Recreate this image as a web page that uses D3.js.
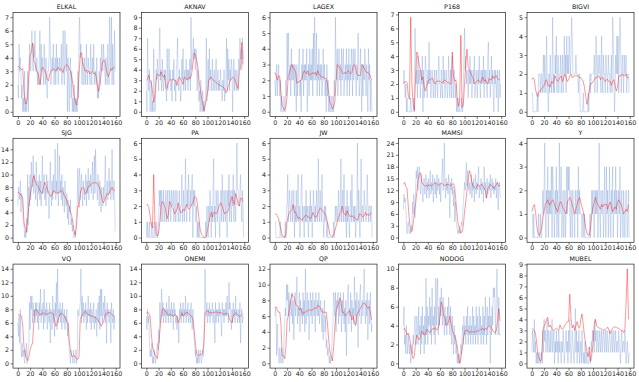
<!DOCTYPE html>
<html><head><meta charset="utf-8">
<script src="https://cdn.jsdelivr.net/npm/d3@7"></script>
<style>body{margin:0;background:#fff}svg text{font-family:"DejaVu Sans",sans-serif}</style>
</head><body><svg id="c" width="639" height="382"></svg>
<script>
const titles = ["ELKAL","AKNAV","LAGEX","P168","BIGVI","SJG","PA","JW","MAMSI","Y","VQ","ONEMI","QP","NODOG","MUBEL"];
const yTickStep = [1,1,1,1,1,2,1,1,3,1,2,2,2,2,1];
const xTickLabels = [0,20,40,60,80,100,120,140,160];

// blue (observed) series, one value per step, x = 0..159
const ELKAL_obs=[2,1,5,3,4,3,1,2,0,1,0,3,0,1,0,1,3,0,2,5,4,3,5,6,4,3,5,4,6,3,3,4,2,3,2,4,6,2,5,3,4,3,2,5,3,2,4,2,1,3,3,4,7,5,2,3,4,3,5,2,3,4,2,5,3,4,2,3,4,3,3,5,2,4,6,3,2,6,4,3,5,0,4,2,0,3,4,1,3,0,1,0,2,0,1,0,1,0,3,1,6,7,4,5,3,2,4,3,2,4,3,2,5,3,2,4,3,3,2,5,3,2,4,3,5,2,3,3,2,4,1,2,1,3,2,4,3,5,4,3,5,4,3,2,4,3,2,5,3,2,7,4,3,7,2,5,3,2,6,3];
const AKNAV_obs=[2,0,7,3,2,4,0,1,3,0,1,0,6,2,0,1,4,3,5,4,2,5,8,3,4,2,5,3,2,4,3,4,2,1,6,2,3,6,3,4,2,3,1,4,3,5,2,3,1,4,5,7,3,2,4,3,1,2,5,3,6,2,3,4,2,5,3,4,2,4,3,5,2,9,4,5,6,7,5,6,4,6,5,2,4,3,1,2,0,3,1,0,2,0,1,0,1,2,7,1,3,5,2,6,3,4,2,3,5,2,3,4,2,3,5,2,3,4,2,3,2,4,3,2,1,3,2,4,1,2,3,7,2,6,3,5,2,4,3,5,4,0,3,5,2,4,3,2,4,3,2,5,4,7,5,6,4,7,6,5];
const LAGEX_obs=[2,1,2,3,1,2,3,2,1,2,0,1,0,0,0,1,0,0,2,1,5,2,5,3,2,3,1,4,2,3,2,3,1,3,2,0,3,1,2,3,4,1,2,0,3,2,4,1,3,2,3,2,4,0,2,3,1,4,2,3,2,4,1,5,2,6,3,2,5,1,3,2,4,1,3,2,3,1,2,4,2,3,1,2,0,3,1,2,0,1,0,0,1,0,0,1,0,2,1,6,3,2,4,1,3,4,2,3,1,4,2,3,4,1,2,3,2,4,1,3,2,4,1,3,2,4,3,1,4,2,3,4,2,1,3,2,5,3,1,2,4,2,0,3,1,3,2,4,3,1,3,2,0,4,2,3,0,2,1,0];
const P168_obs=[2,3,2,1,2,0,1,0,0,0,0,0,1,0,0,0,0,1,0,6,4,2,3,1,4,2,3,2,1,3,2,4,0,3,1,2,4,3,2,1,3,2,5,2,3,1,2,3,2,1,2,3,1,2,3,2,1,3,4,2,2,1,3,2,1,4,2,3,1,2,3,2,1,2,4,2,1,3,2,1,4,2,1,3,2,1,2,0,1,0,0,1,0,0,0,1,0,0,2,4,6,3,4,2,3,2,1,3,2,4,2,3,1,2,3,2,4,1,2,3,2,1,3,2,4,2,1,3,2,3,2,4,1,3,2,3,2,1,4,5,2,3,1,2,4,2,3,1,0,3,2,3,1,2,3,0,2,3,1,2];
const BIGVI_obs=[1,1,0,0,0,0,0,0,0,1,0,2,2,2,1,2,2,1,2,3,1,3,2,1,4,2,1,0,2,1,3,2,1,2,5,1,2,1,3,2,4,1,2,3,1,2,2,3,1,2,3,1,2,4,2,3,1,4,2,3,2,4,3,2,3,5,4,2,2,2,2,2,3,2,2,2,1,2,2,0,0,0,0,0,1,0,0,0,0,0,0,0,1,0,1,2,1,2,2,2,2,2,3,1,2,4,2,1,3,2,2,3,2,1,4,2,1,3,2,2,1,3,2,2,1,3,2,2,1,2,3,1,5,4,2,0,1,3,2,4,2,4,1,3,5,4,1,2,3,2,1,3,2,2,3,1,2,2,2,1];
const SJG_obs=[5,8,7,6,9,4,7,6,5,2,2,0,1,0,3,1,10,2,8,5,10,6,12,9,8,13,7,10,9,6,12,8,5,9,7,10,6,9,5,8,13,7,9,10,6,8,5,10,7,9,6,3,8,12,7,5,9,6,10,7,8,14,6,9,7,15,5,8,13,7,9,6,10,5,8,7,4,9,6,5,7,3,6,2,5,4,6,2,3,1,2,0,0,1,0,2,4,6,11,5,9,11,6,8,10,7,5,9,7,6,8,10,5,9,7,11,6,9,8,10,7,9,12,6,8,13,7,14,9,8,6,10,8,5,9,7,4,8,6,5,8,6,9,13,5,7,9,6,8,11,7,9,6,8,14,7,6,9,8,1];
const PA_obs=[1,0,1,0,0,1,0,0,0,1,0,0,0,1,0,0,0,1,0,0,1,3,2,3,1,3,2,1,3,2,1,2,3,1,2,3,1,2,3,2,1,3,2,2,3,1,2,3,1,2,3,2,1,2,3,1,2,2,4,1,2,3,1,2,5,2,1,3,2,4,2,1,3,2,3,4,0,3,2,3,2,1,2,0,1,0,1,0,0,0,0,0,0,0,0,0,0,1,0,2,1,0,2,1,3,2,0,2,1,3,5,1,2,0,3,2,1,3,2,1,0,2,3,1,4,2,1,3,2,1,3,2,0,3,2,4,1,3,2,1,3,2,4,1,3,2,1,3,6,3,3,2,2,3,4,2,1,3,2,0];
const JW_obs=[1,1,0,0,0,0,0,0,0,1,0,0,0,0,0,0,0,1,0,2,2,4,1,2,3,2,1,2,3,1,2,3,0,2,1,3,1,2,4,1,2,0,1,3,4,1,2,1,0,2,1,3,1,2,1,0,2,1,3,1,2,0,1,3,2,1,2,1,3,2,1,5,2,1,3,2,1,4,2,1,0,2,1,2,1,0,1,0,0,0,0,0,0,0,0,0,1,0,1,2,1,2,2,1,3,2,1,2,5,1,2,3,1,4,2,1,2,0,3,1,2,1,0,2,3,1,4,2,1,2,1,2,0,1,2,6,1,3,2,0,2,5,1,2,2,1,3,2,2,1,2,4,2,1,2,2,1,2,2,0];
const MAMSI_obs=[7,11,9,10,8,4,1,3,4,2,1,2,1,3,2,9,6,11,8,5,12,17,15,18,12,16,18,14,11,13,16,12,9,14,15,11,13,16,10,14,12,15,10,13,17,11,14,12,16,9,13,15,11,14,10,16,12,13,15,11,14,9,13,16,20,12,14,24,13,10,15,12,14,11,16,13,5,14,12,15,11,13,8,12,4,9,5,3,2,1,2,1,3,1,2,4,3,6,9,11,14,12,16,19,13,17,15,12,14,11,13,16,10,14,12,15,9,13,16,11,14,12,15,18,10,13,12,15,11,14,13,9,18,12,14,10,13,15,11,12,14,12,16,10,13,15,12,14,11,13,12,15,10,14,12,7,13,14,11,10];
const Y_obs=[1,1,0,1,0,0,0,0,0,0,0,1,0,0,1,0,0,1,2,1,2,4,1,0,2,1,3,0,2,1,2,1,3,0,3,2,1,0,2,1,3,0,2,1,0,4,1,2,3,0,1,2,0,1,2,0,1,3,1,3,2,3,1,0,2,1,0,2,1,1,0,2,1,1,2,0,3,1,2,1,1,1,0,1,1,0,1,0,0,0,0,0,0,0,0,1,0,1,2,1,2,1,0,2,1,2,1,2,0,1,4,1,0,2,1,1,2,0,1,3,1,0,3,1,2,0,1,3,1,0,2,1,3,0,1,2,1,3,1,2,0,1,2,1,3,0,1,2,1,0,2,1,0,1,2,1,0,1,2,0];
const VQ_obs=[6,4,7,3,8,2,1,3,1,2,1,0,2,1,3,0,1,2,3,9,5,10,8,10,6,9,7,8,6,9,7,9,6,8,5,9,7,11,6,8,7,9,5,11,6,8,7,9,5,8,7,6,9,3,8,7,5,10,6,8,4,9,7,12,5,14,6,8,7,9,6,8,5,9,7,6,8,5,7,6,8,4,6,3,2,1,0,2,1,1,0,2,1,0,1,2,0,1,8,7,7,8,9,14,6,10,7,9,6,8,7,9,5,8,6,10,7,8,6,9,5,8,7,6,9,5,7,6,8,4,7,9,6,10,5,11,7,11,6,8,9,7,10,6,8,3,9,7,8,6,7,8,3,9,7,6,8,5,7,6];
const ONEMI_obs=[7,5,8,6,7,3,1,2,1,3,0,1,0,2,1,0,1,2,3,2,5,3,9,6,8,11,7,9,6,8,7,8,6,9,7,8,6,10,7,8,6,9,7,8,5,9,7,8,6,7,5,7,6,3,8,7,9,6,8,7,9,6,8,7,10,6,8,7,9,6,7,8,6,9,7,5,8,6,4,3,1,2,0,1,0,2,0,1,2,1,0,1,2,1,3,7,14,8,7,9,6,8,7,9,6,8,7,8,9,6,8,7,3,9,6,8,7,8,6,9,7,8,6,4,9,7,8,6,8,7,9,7,10,8,6,12,8,9,7,5,8,6,9,7,8,6,10,7,8,6,7,8,6,9,3,7,8,6,7,7];
const QP_obs=[6,7,6,1,5,2,1,0,2,1,0,2,1,0,1,3,5,7,6,10,8,10,6,9,4,8,7,6,9,5,8,3,7,9,6,8,11,5,7,6,9,4,8,6,7,5,9,6,8,4,12,5,7,9,6,8,3,7,9,6,8,5,9,7,6,8,4,9,7,6,8,6,9,5,7,8,6,4,7,3,6,8,4,6,2,3,1,2,1,0,1,0,1,2,4,5,9,8,6,9,4,8,7,9,5,8,6,9,7,4,8,6,9,5,7,4,8,1,6,9,10,5,7,6,9,4,8,6,7,5,11,6,8,5,9,7,2,8,6,9,10,5,7,8,6,9,12,7,5,8,6,9,3,7,8,5,9,6,4,5];
const NODOG_obs=[4,6,2,3,1,4,2,1,3,2,1,2,0,1,2,1,3,2,4,5,3,2,5,4,2,6,3,4,1,5,2,6,3,4,1,5,2,9,3,6,2,5,4,7,3,6,2,8,4,5,3,6,2,9,4,7,9,3,6,4,7,5,8,6,4,7,5,3,6,4,5,3,6,4,7,5,3,6,4,2,5,3,1,4,2,3,1,2,0,1,0,1,0,0,2,1,3,4,2,5,3,4,2,5,3,6,2,4,3,5,2,4,3,6,2,5,3,4,2,6,3,5,2,4,6,3,5,2,4,3,6,2,5,3,7,4,2,6,3,5,4,7,0,5,3,6,4,8,7,8,5,3,7,10,6,3,7,3,3,3];
const MUBEL_obs=[1,3,2,1,4,1,2,0,1,0,1,0,0,1,0,0,1,0,3,1,4,2,3,1,2,4,1,3,2,1,3,1,2,4,1,2,3,0,2,1,3,1,2,0,3,1,2,1,0,2,1,3,2,0,1,2,3,1,2,0,3,1,4,2,0,1,3,2,1,0,2,5,1,3,0,2,1,3,0,1,2,0,3,1,0,1,0,2,0,0,1,0,0,0,1,0,0,2,1,3,2,3,1,4,2,3,1,2,3,1,2,3,1,2,3,1,2,3,2,1,3,2,1,3,2,1,2,3,2,1,2,3,1,2,3,1,2,3,1,2,2,1,3,2,1,0,2,3,1,2,2,1,3,2,0,1,2,1,0,1];

// red (smoothed) series, one value every 2 steps, x = 0,2,..,158
const ELKAL_fit=[3.4,3.3,3.2,3.1,3.2,1.5,0.6,0.6,1.2,2.8,4.2,4.4,5.1,3.8,3.6,3.2,2.9,2.7,2.0,2.6,3.3,3.2,3.1,2.8,2.4,2.3,2.8,3.0,3.1,3.2,3.1,3.0,3.2,3.3,3.1,3.2,3.1,2.9,3.3,3.4,3.5,3.4,3.2,3.0,2.6,2.0,1.2,0.7,0.5,1.0,2.8,4.2,4.4,3.6,3.3,3.0,3.1,2.9,3.0,2.8,2.9,3.0,2.8,2.9,2.6,2.0,1.5,1.9,2.8,3.6,3.8,3.8,3.3,2.8,2.6,2.9,3.2,3.1,3.3,3.3];
const AKNAV_fit=[3.0,3.1,3.5,2.9,2.8,2.0,0.9,1.5,3.0,3.6,3.5,3.4,3.8,3.5,3.3,3.5,2.2,2.3,2.8,3.0,3.1,3.0,3.1,3.0,3.0,2.5,3.1,3.3,3.1,2.9,2.6,3.3,3.2,3.1,3.1,3.3,3.2,3.6,4.5,5.6,5.4,5.0,4.3,3.0,2.2,1.4,0.8,0.1,0.6,1.2,1.8,3.0,3.2,3.3,3.1,3.0,2.9,2.8,2.7,2.6,2.5,2.5,2.4,2.3,2.2,1.8,2.0,2.5,2.8,3.1,3.2,3.3,3.2,2.8,2.5,2.2,3.8,4.2,6.6,4.5];
const LAGEX_fit=[2.5,2.3,2.0,2.3,2.2,1.2,0.4,0.2,0.1,0.3,1.0,2.3,2.5,2.8,3.0,2.8,2.7,2.5,1.8,1.9,1.9,2.0,2.1,2.4,2.6,2.5,2.4,2.6,2.3,2.4,2.4,2.5,2.4,2.5,2.3,2.6,2.4,2.3,2.2,2.2,2.2,2.1,2.1,1.8,1.2,0.6,0.4,0.2,0.3,0.6,2.0,3.0,2.9,2.8,2.7,2.5,2.4,2.5,2.4,2.5,2.6,2.5,2.4,2.5,2.9,3.0,2.8,2.4,2.3,2.3,2.3,3.0,2.9,2.8,2.6,2.5,2.5,2.4,2.3,2.0];
const P168_fit=[2.1,2.1,2.2,2.1,1.2,0.9,6.8,2.0,0.5,0.1,2.5,4.3,4.0,3.3,3.0,2.3,2.5,1.8,1.5,1.8,2.2,2.3,2.3,2.4,2.4,2.1,2.0,2.2,2.2,2.2,2.2,2.1,2.1,2.2,2.3,2.2,2.1,2.1,2.0,2.0,4.3,2.5,2.2,2.3,1.0,0.4,0.8,5.5,0.3,0.5,2.0,3.5,4.5,3.2,3.0,2.8,2.6,2.4,2.0,2.1,2.2,2.3,2.2,2.1,2.3,2.5,2.2,2.3,2.1,2.0,2.4,2.3,2.3,2.6,2.4,2.5,2.6,2.4,2.3,2.3];
const BIGVI_fit=[1.7,1.8,1.7,1.2,0.9,0.8,1.1,1.1,1.2,1.3,1.4,1.6,1.7,1.4,1.4,1.3,1.6,1.5,1.7,1.9,1.7,1.6,1.7,1.8,1.9,1.6,1.8,2.0,1.8,1.6,1.7,1.9,2.0,1.8,1.9,1.9,1.9,1.9,1.9,1.8,1.8,1.7,1.6,1.3,0.8,0.4,0.7,1.2,1.5,1.5,1.6,1.7,1.8,1.8,1.9,1.9,1.7,1.8,1.8,1.7,1.6,1.7,1.7,1.6,1.6,1.4,1.6,1.7,1.4,1.1,1.3,1.9,1.9,1.9,2.0,1.9,1.9,2.0,1.8,1.8];
const SJG_fit=[7.2,7.1,6.8,6.7,6.2,2.5,1.5,0.8,3.0,5.0,6.5,7.8,9.0,9.8,9.0,8.5,8.2,8.0,7.5,7.2,7.0,8.0,8.8,8.2,7.8,7.2,6.8,6.5,6.8,7.5,7.3,7.2,7.0,7.1,7.2,7.5,7.4,7.2,6.6,6.4,5.8,5.3,5.0,4.0,3.5,2.3,1.0,0.4,2.0,5.0,4.8,7.0,7.8,8.0,7.8,6.9,7.2,7.8,8.1,8.3,8.5,8.6,8.7,8.7,8.7,8.6,8.2,7.8,6.8,6.0,5.5,6.0,6.5,7.0,6.8,7.3,7.6,8.0,7.5,7.5];
const PA_fit=[2.1,2.1,1.9,1.4,0.8,0.6,4.0,1.0,0.2,0.1,0.3,1.0,2.0,2.3,2.2,2.0,1.6,1.2,1.5,2.3,2.1,1.9,1.8,1.5,1.6,1.8,2.2,1.8,1.6,1.6,1.8,1.7,1.9,2.1,1.9,1.8,1.9,2.1,2.2,2.5,2.6,2.5,1.9,1.2,0.5,0.2,0.1,0.0,0.0,0.1,0.5,0.9,1.3,1.6,1.3,1.6,1.6,1.5,1.6,1.9,2.1,2.2,2.0,1.7,1.5,1.6,1.6,1.7,2.1,2.3,2.6,2.3,2.1,2.8,2.5,2.1,2.0,2.5,2.5,2.3];
const JW_fit=[1.5,1.5,1.4,1.2,0.8,0.5,0.1,0.1,0.0,0.2,1.0,1.4,1.6,1.7,1.8,2.1,1.6,1.6,1.4,1.2,1.3,1.2,1.1,1.2,1.3,1.4,1.4,1.3,1.3,1.2,1.3,1.6,1.4,1.3,1.3,1.5,1.7,1.9,1.8,1.7,1.6,1.5,1.3,1.0,0.6,0.2,0.1,0.05,0.2,0.4,0.7,1.0,1.3,1.5,1.6,2.0,1.6,1.5,1.4,1.7,1.5,1.4,1.3,1.4,1.3,1.3,1.2,1.1,1.2,1.5,1.5,1.4,1.3,1.4,1.6,1.4,1.5,1.4,1.5,1.6];
const MAMSI_fit=[13.5,14.0,13.0,12.5,8.0,4.0,2.0,1.5,3.5,6.2,8.5,11.5,14.5,16.2,16.5,14.0,13.6,13.3,13.0,13.3,13.0,13.4,13.3,13.1,13.4,13.7,14.0,13.6,13.5,13.2,13.5,13.8,13.6,13.4,13.1,13.5,13.4,13.5,13.2,13.3,13.5,13.7,12.5,9.0,5.5,3.0,2.0,1.2,1.4,3.0,6.5,9.0,12.0,15.0,17.0,16.0,14.0,13.0,12.8,12.5,12.8,13.5,13.0,13.3,13.5,13.0,12.5,12.0,10.0,12.5,13.0,13.5,13.2,13.0,12.5,13.0,13.5,14.0,13.0,13.4];
const Y_fit=[1.1,1.3,1.4,1.1,0.5,0.2,0.1,0.2,0.4,0.8,1.1,1.4,1.5,1.6,1.4,1.4,1.5,1.6,1.5,1.3,1.2,1.1,1.3,1.5,1.5,1.3,1.2,1.1,1.0,1.5,1.6,1.7,1.6,1.4,1.2,1.0,1.2,1.4,1.6,1.7,1.5,1.3,1.1,0.8,0.4,0.2,0.1,0.1,0.5,1.0,1.3,1.5,1.7,1.5,1.4,1.3,1.2,1.4,1.3,1.4,1.4,1.4,1.2,1.4,1.5,1.3,1.1,1.2,1.3,1.2,1.5,1.6,1.5,1.4,1.2,1.0,1.1,1.2,1.1,1.4];
const VQ_fit=[7.2,7.2,7.1,7.0,5.5,2.5,1.2,0.8,0.4,1.0,2.0,2.6,3.0,6.0,7.9,8.0,7.7,7.4,7.2,7.3,7.4,7.5,7.3,7.3,7.3,7.4,7.5,7.5,7.4,7.3,6.5,5.5,5.8,6.5,7.0,7.4,7.4,7.2,7.0,6.6,6.3,6.0,3.5,1.8,1.1,1.0,1.2,0.9,0.7,0.6,1.0,6.5,7.0,7.3,7.5,7.7,7.5,7.3,7.2,7.1,7.0,7.0,6.9,6.8,6.7,6.5,6.2,6.0,5.5,5.8,6.2,7.0,7.3,7.5,7.5,7.5,7.4,7.2,7.1,7.0];
const ONEMI_fit=[7.5,7.5,7.4,7.0,4.5,2.5,1.8,1.3,1.0,0.7,2.5,4.7,6.5,8.0,8.2,7.8,7.6,7.3,7.2,7.2,7.2,7.1,7.0,7.1,7.2,7.0,6.0,6.5,7.0,7.5,7.0,7.2,7.5,7.5,7.5,7.3,7.1,7.0,6.5,5.0,3.0,1.5,1.2,1.2,1.3,1.3,1.5,3.0,7.5,7.7,7.8,7.6,7.5,7.5,7.5,7.5,7.6,7.6,7.6,7.5,7.5,7.5,7.4,7.3,7.3,7.4,7.4,7.3,6.5,6.2,6.0,7.0,7.3,7.5,7.3,7.1,7.0,7.0,7.2,7.4];
const QP_fit=[7.0,7.2,6.8,6.5,6.5,5.0,1.0,1.0,0.6,2.0,5.5,6.0,7.0,8.2,8.8,8.5,8.3,7.5,7.3,7.2,6.8,7.0,6.6,6.3,6.5,6.5,6.6,6.7,6.8,6.8,6.7,6.8,7.0,7.0,7.0,7.3,7.3,7.1,6.6,6.5,6.5,6.5,6.5,5.0,3.0,1.5,1.0,0.3,2.0,4.5,6.5,7.2,7.5,8.3,8.0,6.5,6.5,6.2,6.0,6.3,6.5,6.7,6.2,5.5,6.0,5.2,4.8,6.1,6.5,6.7,7.0,7.3,7.5,7.7,7.5,7.2,7.0,7.2,6.5,5.5];
const NODOG_fit=[3.6,3.7,3.4,3.0,3.2,2.8,1.9,1.0,0.5,0.8,2.3,3.0,2.7,2.5,2.8,3.4,3.3,3.0,3.1,3.6,3.5,3.3,3.3,3.5,3.7,3.6,3.8,3.5,3.6,4.0,5.0,6.5,6.0,5.0,4.8,4.0,4.2,4.4,5.0,4.2,3.5,3.2,2.8,2.5,1.8,0.8,0.0,0.5,1.5,2.5,3.3,3.5,3.5,3.4,3.3,3.3,3.4,3.3,3.3,3.4,3.4,3.4,3.5,3.6,3.6,3.7,3.5,3.7,3.6,3.8,4.0,3.9,3.8,3.5,3.3,3.2,3.5,4.5,5.8,4.5];
const MUBEL_fit=[3.2,3.1,3.0,2.7,1.8,0.8,0.4,0.2,0.5,3.0,3.4,3.6,4.0,4.2,3.3,3.5,3.2,3.1,3.0,3.1,3.2,3.1,3.0,3.5,3.2,3.1,3.2,3.5,3.6,3.8,3.8,6.3,4.0,3.2,3.5,3.0,3.4,3.8,3.3,3.2,4.0,4.5,3.5,2.5,1.8,1.0,0.6,1.5,0.2,0.8,1.8,3.5,4.0,3.4,3.3,3.2,3.2,3.1,3.1,3.0,3.1,3.2,3.3,3.0,2.7,3.0,3.2,3.3,3.3,3.3,3.2,3.2,3.1,3.0,3.0,2.8,3.0,5.5,8.6,4.0];

const obsSeries=[ELKAL_obs,AKNAV_obs,LAGEX_obs,P168_obs,BIGVI_obs,SJG_obs,PA_obs,JW_obs,MAMSI_obs,Y_obs,VQ_obs,ONEMI_obs,QP_obs,NODOG_obs,MUBEL_obs];
const fitSeries=[ELKAL_fit,AKNAV_fit,LAGEX_fit,P168_fit,BIGVI_fit,SJG_fit,PA_fit,JW_fit,MAMSI_fit,Y_fit,VQ_fit,ONEMI_fit,QP_fit,NODOG_fit,MUBEL_fit];

const svg=d3.select("#c");
const W=107,H=104,FS=6.3;
titles.forEach((t,k)=>{
  const col=k%5,row=Math.floor(k/5);
  const x0=13+col*128.5,y0=12.5+row*125.8;
  const obs=obsSeries[k],fit=fitSeries[k];
  const n=obs.length-1;
  const x=d3.scaleLinear().domain([-0.05*n,n*1.05]).range([x0,x0+W]);
  const ymax=d3.max(obs.concat(fit));
  const y=d3.scaleLinear().domain([-0.05*ymax,ymax*1.05]).range([y0+H,y0]);
  const g=svg.append("g");
  g.append("path").datum(obs).attr("fill","none").attr("stroke","#5a80cc").attr("stroke-opacity",0.32).attr("stroke-width",0.85)
    .attr("stroke-linejoin","round").attr("d",d3.line().x((d,i)=>x(i)).y(d=>y(d)));
  g.append("path").datum(fit).attr("fill","none").attr("stroke","#f00").attr("stroke-opacity",0.45).attr("stroke-width",0.9)
    .attr("d",d3.line().x((d,i)=>x(i*2)).y(d=>y(d)));
  const yt=d3.range(0,ymax*1.05+1e-9,yTickStep[k]);
  const ax=g.append("g").attr("transform",`translate(${x0},0)`).call(d3.axisLeft(y).tickValues(yt).tickSize(2.5).tickPadding(1.5).tickFormat(d3.format("d")));
  const bx=g.append("g").attr("transform",`translate(0,${y0+H})`).call(d3.axisBottom(x).tickValues(xTickLabels).tickSize(2.5).tickPadding(1.2).tickFormat(d3.format("d")));
  [ax,bx].forEach(a=>{a.select(".domain").remove();a.selectAll("line").attr("stroke","#222").attr("stroke-width",0.6);
    a.selectAll("text").attr("font-size",FS).attr("fill","#222").attr("font-family","DejaVu Sans");});
  g.append("rect").attr("x",x0).attr("y",y0).attr("width",W).attr("height",H).attr("fill","none").attr("stroke","#222").attr("stroke-width",0.7);
  g.append("text").attr("x",x0+W/2).attr("y",y0-3.5).attr("text-anchor","middle").attr("font-size",FS).attr("fill","#111").text(t);
});
</script></body></html>
